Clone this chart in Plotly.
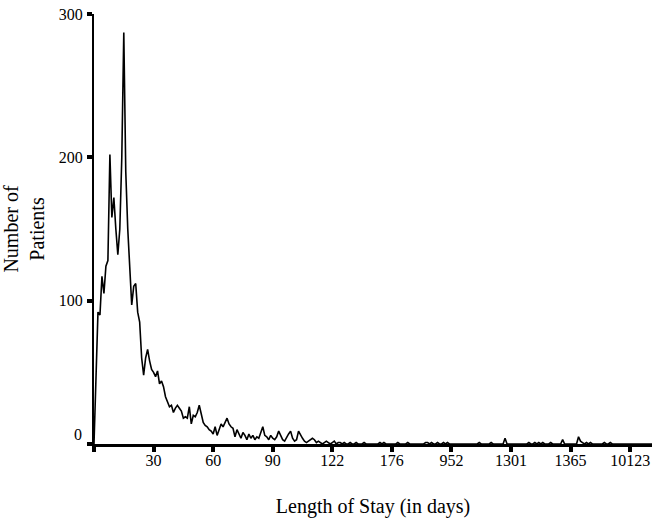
import plotly.graph_objects as go

# Number of patients for each distinct length-of-stay category (ordered)
patients = [
    0, 45, 92, 90, 117, 105, 124, 128, 202, 158,      # 0
    172, 150, 132, 150, 200, 287, 190, 150, 120, 97,  # 10
    110, 112, 92, 85, 60, 48, 60, 66, 58, 52,         # 20
    50, 47, 51, 42, 44, 40, 33, 30, 26, 27,           # 30
    22, 25, 27, 25, 23, 18, 19, 18, 26, 14,           # 40
    20, 19, 22, 27, 20, 15, 13, 12, 10, 9,            # 50
    7, 12, 6, 10, 14, 12, 15, 18, 14, 12,             # 60
    11, 5, 10, 7, 4, 8, 6, 3, 7, 4,                   # 70
    6, 3, 5, 4, 8, 12, 6, 5, 3, 6,                    # 80
    4, 3, 5, 9, 6, 3, 2, 5, 7, 9,                     # 90
    4, 2, 3, 9, 6, 4, 2, 1, 2, 3,                     # 100
    4, 3, 1, 2, 1, 0, 1, 2, 1, 0,                     # 110
    1, 2, 0, 1, 1, 0, 1, 0, 0, 1,                     # 120
    0, 0, 1, 0, 0, 0, 1, 0, 0, 0,                     # 130
    0, 0, 0, 0, 1, 0, 1, 0, 0, 0,                     # 140
    0, 0, 0, 1, 0, 0, 0, 0, 1, 0,                     # 150
    0, 0, 0, 0, 0, 0, 0, 1, 1, 0,                     # 160
    1, 0, 0, 1, 0, 0, 1, 0, 1, 0,                     # 170
    0, 0, 0, 0, 0, 0, 0, 0, 0, 0,                     # 180
    0, 0, 0, 0, 1, 0, 0, 0, 0, 0,                     # 190
    1, 0, 0, 0, 0, 0, 0, 4, 0, 0,                     # 200
    0, 0, 0, 0, 0, 0, 0, 0, 0, 1,                     # 210
    0, 0, 1, 0, 1, 0, 1, 0, 0, 0,                     # 220
    1, 0, 0, 0, 0, 0, 3, 0, 0, 0,                     # 230
    0, 0, 0, 0, 5, 2, 1, 0, 1, 0,                     # 240
    1, 0, 0, 0, 0, 0, 0, 1, 0, 0,                     # 250
    1, 0, 0, 0, 0, 0, 0, 0, 0, 0,                     # 260
    0, 0, 0, 0, 0, 0, 0, 0, 0, 0,                     # 270
    0, 0,                                             # 280
]

category_index = list(range(len(patients)))

# Tick labels shown every 30th category (actual length of stay, in days)
tick_labels = ["", "30", "60", "90", "122", "176", "952", "1301", "1365", "10123"]
tick_step = 30
tick_positions = [k * tick_step for k in range(len(tick_labels))]

y_ticks = [0, 100, 200, 300]
y_tick_labels = ["", "100", "200", "300"]   # "0" is drawn slightly raised, as in the original

FONT = "Liberation Serif, Times New Roman, serif"

fig = go.Figure(
    go.Scatter(
        x=category_index,
        y=patients,
        mode="lines",
        line=dict(color="black", width=1.6),
        hoverinfo="x+y",
    )
)

fig.update_layout(
    width=652,
    height=520,
    paper_bgcolor="white",
    plot_bgcolor="white",
    margin=dict(l=94, r=0, t=14, b=76),
    showlegend=False,
    font=dict(family=FONT, size=16, color="black"),
)

fig.update_xaxes(
    range=[0, 281],
    automargin=False,
    tickmode="array",
    tickvals=tick_positions,
    ticktext=tick_labels,
    ticks="outside",
    ticklen=5,
    tickwidth=4,
    tickcolor="black",
    showline=True,
    linecolor="black",
    linewidth=2.5,
    showgrid=False,
    zeroline=False,
    tickfont=dict(family=FONT, size=16),
    ticklabelstandoff=-5,
    title=dict(text="Length of Stay (in days)", font=dict(family=FONT, size=20), standoff=32),
)

fig.update_yaxes(
    range=[0, 300],
    automargin=False,
    tickmode="array",
    tickvals=y_ticks,
    ticktext=y_tick_labels,
    ticks="outside",
    ticklen=5,
    tickwidth=4,
    tickcolor="black",
    showline=True,
    linecolor="black",
    linewidth=2,
    showgrid=False,
    zeroline=False,
    tickfont=dict(family=FONT, size=16),
    ticklabelstandoff=1,
    title=dict(text="Number of<br>Patients", font=dict(family=FONT, size=20), standoff=16),
)

fig.add_annotation(
    text=y_tick_labels[0] or str(y_ticks[0]),
    xref="paper", yref="y",
    x=0, y=y_ticks[0],
    xanchor="right", yanchor="middle",
    xshift=-10, yshift=10,
    showarrow=False,
    font=dict(family=FONT, size=16, color="black"),
)

fig.write_html(
    "out.html",
    config={"displayModeBar": False},
    post_script="document.body.style.margin='0';document.body.style.padding='0';",
)
